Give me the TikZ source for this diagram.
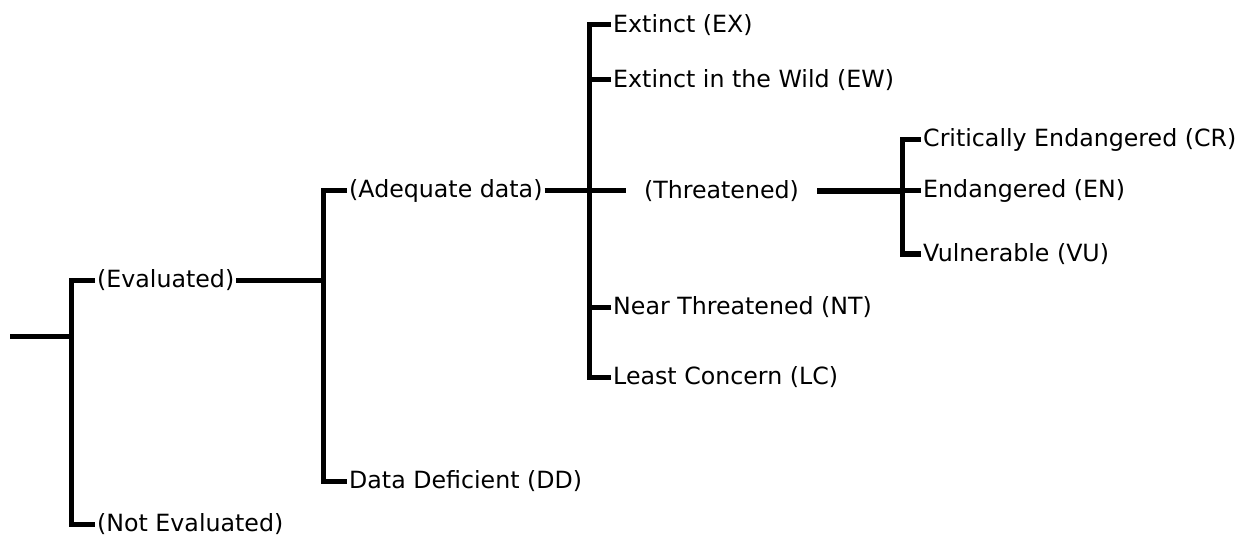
\documentclass[tikz,border=0pt]{standalone}
\usepackage{fontspec}
\setmainfont{DejaVu Sans}
\begin{document}
\begin{tikzpicture}[x=1pt,y=-1pt,
  branch/.style={line width=5pt, line join=miter},
  thick branch/.style={line width=6.5pt},
  leaf/.style={anchor=west, inner xsep=2pt, inner ysep=1pt,
    font=\fontsize{23.7}{28}\selectfont},
  gapped/.style={leaf, anchor=center, inner xsep=18pt}]
\useasboundingbox (0,0) rectangle (1253,540);

% junction points of the tree
\coordinate (r0) at (10,336);
\coordinate (j1) at (71,336);
\coordinate (j2) at (323,280);
\coordinate (j3) at (589,191);
\coordinate (j4) at (902,191);

% labels
\node[leaf] (ev) at (95,280) {(Evaluated)};
\node[leaf] (ne) at (95,524) {(Not Evaluated)};
\node[leaf] (ad) at (347,191) {(Adequate data)};
\node[leaf] (dd) at (347,481) {Data Deficient (DD)};
\node[leaf] (ex) at (611,25) {Extinct (EX)};
\node[leaf] (ew) at (611,80) {Extinct in the Wild (EW)};
\node[gapped] (th) at (721.5,191) {(Threatened)};
\node[leaf] (nt) at (611,307) {Near Threatened (NT)};
\node[leaf] (lc) at (611,377) {Least Concern (LC)};
\node[leaf] (cr) at (921,140) {Critically Endangered (CR)};
\node[leaf] (en) at (921,191) {Endangered (EN)};
\node[leaf] (vu) at (921,254) {Vulnerable (VU)};

% connectors
\draw[branch] (r0) -- (j1);
\draw[branch] (ev.west) -| (j1) |- (ne.west);
\draw[branch] (ev.east) -- (ev.east -| j2);
\draw[branch] (ad.west) -| (j2) |- (dd.west);
\draw[branch] (ad.east) -- (ad.east -| j3) -- (th.west);
\draw[branch] (ex.west) -| (j3) |- (lc.west);
\draw[branch] (ew.west) -| (j3);
\draw[branch] (nt.west) -| (j3);
\draw[thick branch] (th.east) -- (th.east -| j4);
\draw[branch] (cr.west) -| (j4) |- (vu.west);
\draw[branch] (en.west) -- (en.west -| j4);
\end{tikzpicture}
\end{document}
